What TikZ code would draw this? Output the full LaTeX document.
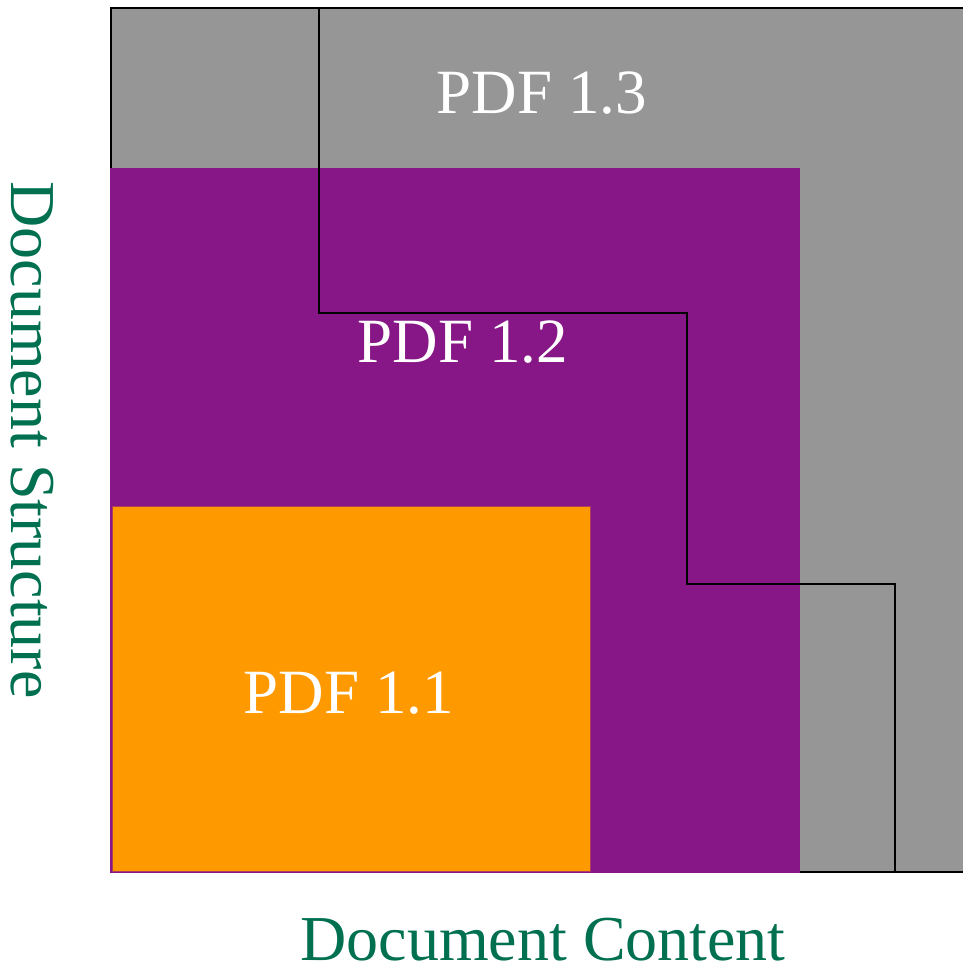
\documentclass[tikz,border=0pt]{standalone}
\usepackage{fontspec}
\setmainfont{Liberation Serif}
\definecolor{pdfgray}{RGB}{150,150,150}
\definecolor{pdfpurple}{RGB}{135,23,134}
\definecolor{pdforange}{RGB}{255,153,0}
\definecolor{axisgreen}{RGB}{0,112,80}
\tikzset{
  verlabel/.style={text=white, font=\fontsize{63}{70}\selectfont, inner sep=0pt, anchor=base},
  axislabel/.style={text=axisgreen, font=\fontsize{64}{70}\selectfont, inner sep=0pt, anchor=base},
  stepline/.style={draw=black, line width=1.5pt}
}
\begin{document}
\begin{tikzpicture}[x=1pt,y=-1pt]
\useasboundingbox (0,0) rectangle (963,964);
\begin{scope}
\clip (0,0) rectangle (963,964);
\fill[pdfgray, draw=black, line width=2pt] (111,8) rectangle (975,872);
\fill[pdfpurple] (110,168) rectangle (800,873);
\fill[pdforange, draw=pdfpurple!70!pdforange, line width=0.8pt] (112,506) rectangle (590,871);
\coordinate (s0) at (319,8);
\coordinate (s1) at (319,313);
\coordinate (s2) at (687,313);
\coordinate (s3) at (687,584);
\coordinate (s4) at (895,584);
\coordinate (s5) at (895,872);
\draw[stepline] (s0) -- (s1) -- (s2) -- (s3) -- (s4) -- (s5);
\end{scope}
\node[verlabel] (v13) at (542,113) {PDF 1.3};
\node[verlabel] (v12) at (463,362) {PDF 1.2};
\node[verlabel] (v11) at (349,713) {PDF 1.1};
\node[axislabel] (content) at (543,960) {Document Content};
\node[axislabel, rotate=-90] (structure) at (12,440) {Document Structure};
\end{tikzpicture}
\end{document}
